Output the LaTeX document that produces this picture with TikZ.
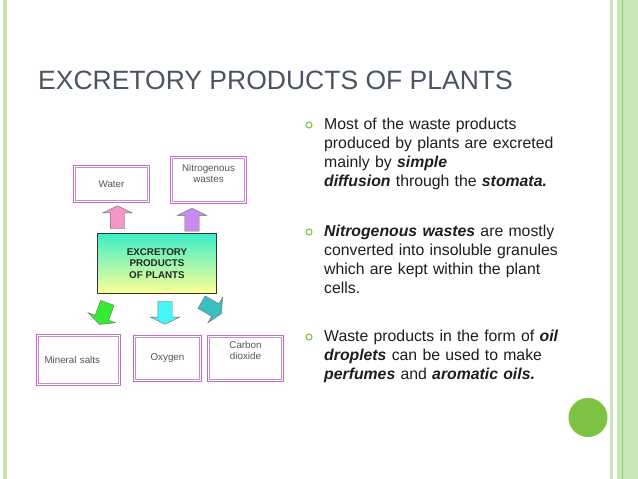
\documentclass[tikz,border=0pt]{standalone}
\usepackage{fontspec}
\setmainfont{Liberation Sans}
\usetikzlibrary{shapes.arrows}
\definecolor{titlegray}{RGB}{74,84,98}
\definecolor{textdark}{RGB}{30,30,30}
\definecolor{boxpurple}{RGB}{186,110,200}
\definecolor{labelgray}{RGB}{85,85,85}
\definecolor{slidegreen}{RGB}{125,194,67}
\definecolor{bandgreen}{RGB}{200,230,184}
\definecolor{linegreen}{RGB}{143,207,110}
\definecolor{topaqua}{RGB}{60,238,200}
\definecolor{bottomyellow}{RGB}{255,255,150}
\definecolor{arrowpink}{RGB}{245,150,200}
\definecolor{arrowlilac}{RGB}{200,140,240}
\definecolor{arrowgreen}{RGB}{50,235,50}
\definecolor{arrowcyan}{RGB}{70,245,245}
\definecolor{arrowteal}{RGB}{60,190,195}
\definecolor{arrowedge}{RGB}{110,110,110}

\begin{document}
\begin{tikzpicture}[x=1pt,y=-1pt,
  out box/.style={rectangle,draw=boxpurple,line width=1pt,
    font=\fontsize{9.8}{11}\selectfont,text=labelgray,align=center,inner sep=0pt},
  inner line/.style={draw=boxpurple!80,line width=0.8pt},
  big box/.style={rectangle,draw=black!80,line width=0.9pt,top color=topaqua,bottom color=bottomyellow,
    font=\fontsize{9.8}{11.5}\selectfont\bfseries,text=black!85,align=center,
    minimum width=119pt,minimum height=60pt},
  block arrow/.style={single arrow,draw=arrowedge,line width=0.4pt,inner sep=7pt,
    minimum width=0pt,minimum height=23pt,single arrow head extend=7.5pt,single arrow tip angle=128},
  dot/.style={circle,draw=slidegreen,line width=1.1pt,minimum size=6pt,inner sep=0pt},
  bullet text/.style={anchor=base west,text width=245pt,align=left,inner sep=0pt,
    font=\fontsize{15.8}{19}\selectfont,text=textdark}]

  \useasboundingbox (0,0) rectangle (638,479);
  \fill[white] (0,0) rectangle (638,479);

  \fill[bandgreen] (3,0) rectangle (7,479);
  \fill[linegreen!60] (4.5,0) rectangle (5.5,479);
  \fill[bandgreen] (610,0) rectangle (612.5,479);
  \fill[bandgreen] (617,0) rectangle (638,479);
  \fill[linegreen] (621.5,0) rectangle (623,479);
  \fill[slidegreen] (588,417.5) circle (19.5pt);

  \node[anchor=base west,inner sep=0pt,font=\fontsize{26.5}{30}\selectfont,text=titlegray]
    (title) at (38,89) {EXCRETORY PRODUCTS OF PLANTS};

  \node[big box] (main) at (157,263.5) {EXCRETORY\\PRODUCTS\\OF PLANTS};

  \node[out box,minimum width=76pt,minimum height=37pt] (water) at (111.5,184) {Water};
  \node[out box,minimum width=76pt,minimum height=47pt,text depth=14pt] (nitro) at (208.5,180) {Nitrogenous\\wastes};
  \node[out box,minimum width=84pt,minimum height=51pt,text width=68pt,align=left] (mineral) at (78.5,360) {Mineral salts};
  \node[out box,minimum width=68pt,minimum height=46pt] (oxygen) at (167.5,358.5) {Oxygen};
  \node[out box,minimum width=76pt,minimum height=46pt,text depth=16pt] (carbon) at (245.5,358.5) {Carbon\\dioxide};
  \foreach \b in {water,nitro,mineral,oxygen,carbon}
    \draw[inner line] ([shift={(2.6pt,2.6pt)}]\b.south west) rectangle ([shift={(-2.6pt,-2.6pt)}]\b.north east);

  \node[block arrow,fill=arrowpink,rotate=90] (a1) at (117.5,219) {};
  \node[block arrow,fill=arrowlilac,rotate=90] (a2) at (192,221.5) {};
  \node[block arrow,fill=arrowgreen,rotate=-110] (a3) at (104,312) {};
  \node[block arrow,fill=arrowcyan,rotate=-90] (a4) at (165,311) {};
  \node[block arrow,fill=arrowteal,rotate=-30] (a5) at (210,307) {};

  \node[dot] (d1) at (309,125) {};
  \node[bullet text] (b1) at (324,129) {Most of the waste products\\produced by plants are excreted\\mainly by \textbf{\textit{simple}}\\\textbf{\textit{diffusion}} through the \textbf{\textit{stomata.}}};
  \node[dot] (d2) at (309,232) {};
  \node[bullet text] (b2) at (324,236) {\textbf{\textit{Nitrogenous wastes}} are mostly\\converted into insoluble granules\\which are kept within the plant\\cells.};
  \node[dot] (d3) at (309,337) {};
  \node[bullet text] (b3) at (324,341) {Waste products in the form of \textbf{\textit{oil}}\\\textbf{\textit{droplets}} can be used to make\\\textbf{\textit{perfumes}} and \textbf{\textit{aromatic oils.}}};
\end{tikzpicture}
\end{document}
